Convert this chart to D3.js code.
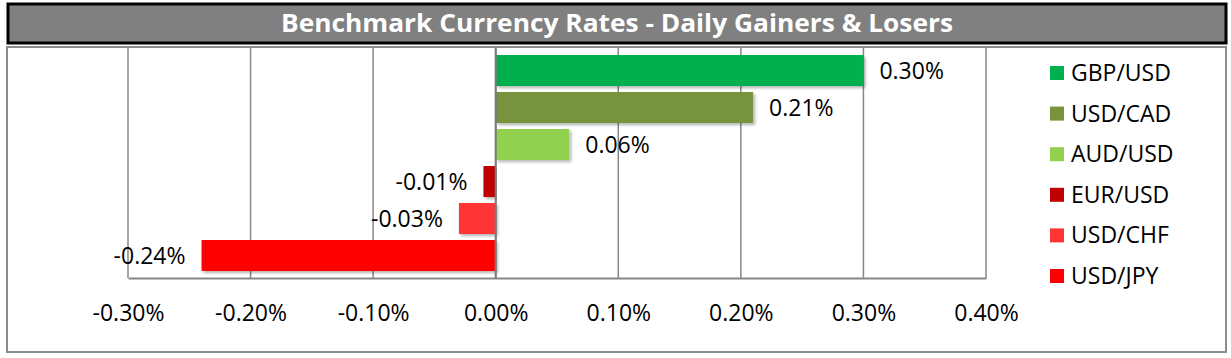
<!DOCTYPE html>
<html><head><meta charset="utf-8">
<script src="https://cdn.jsdelivr.net/npm/d3@7"></script>
<style>body{margin:0;background:#fff}svg{display:block}</style>
</head><body>
<script>
const title = "Benchmark Currency Rates - Daily Gainers & Losers";
const pairs = ["GBP/USD","USD/CAD","AUD/USD","EUR/USD","USD/CHF","USD/JPY"];
const changes = [0.30, 0.21, 0.06, -0.01, -0.03, -0.24];
const colors = ["#00B050","#77933C","#92D050","#C00000","#FF3535","#FF0000"];
const xTicks = [-0.30,-0.20,-0.10,0.00,0.10,0.20,0.30,0.40];

(function(){
const W = 1231, H = 358;
const font = "'Open Sans', sans-serif";
const fs = 23;
const svg = d3.select("body").append("svg").attr("width", W).attr("height", H);

const defs = svg.append("defs");
const f = defs.append("filter").attr("id","sh").attr("x","-5%").attr("y","-20%").attr("width","115%").attr("height","160%");
f.append("feDropShadow").attr("dx",2).attr("dy",2).attr("stdDeviation",1.5).attr("flood-color","#000").attr("flood-opacity",0.3);

// outer frame
svg.append("rect").attr("x",7).attr("y",47).attr("width",1219).attr("height",305)
  .attr("fill","#fff").attr("stroke","#8c8c8c").attr("stroke-width",2);
// title bar
svg.append("rect").attr("x",8).attr("y",4).attr("width",1218).attr("height",39)
  .attr("fill","#808080").attr("stroke","#000").attr("stroke-width",3);
svg.append("text").attr("x",617).attr("y",32).attr("text-anchor","middle")
  .attr("fill","#fff").attr("font-family",font).attr("font-weight","bold")
  .attr("font-size",25).attr("textLength",672).attr("lengthAdjust","spacingAndGlyphs").text(title);

const x = d3.scaleLinear().domain([-0.30,0.40]).range([128,986]);
const y = d3.scaleBand().domain(pairs).range([52,274]).paddingInner(0.162).paddingOuter(0.081);
const pTop = 48, pBottom = 278;

// gridlines
svg.append("g").selectAll("line").data(xTicks).join("line")
  .attr("x1",d=>x(d)).attr("x2",d=>x(d)).attr("y1",pTop).attr("y2",pBottom)
  .attr("stroke","#878787").attr("stroke-width",1.5);

// x axis
const fmt = d=>d3.format(".2f")(d).replace("\u2212","-")+"%";
const xAxis = d3.axisBottom(x).tickValues(xTicks).tickSize(0).tickFormat(fmt);
const gx = svg.append("g").attr("transform",`translate(0,${pBottom})`).call(xAxis);
gx.select(".domain").attr("stroke","#878787").attr("stroke-width",2);
gx.selectAll("text").attr("font-family",font).attr("font-size",fs).attr("fill","#000").attr("dy",0).attr("y",43);

// bars
svg.append("g").selectAll("rect").data(pairs).join("rect")
  .attr("x",(d,i)=>x(Math.min(0,changes[i])))
  .attr("width",(d,i)=>Math.abs(x(changes[i])-x(0)))
  .attr("y",d=>y(d)).attr("height",y.bandwidth())
  .attr("fill",(d,i)=>colors[i]).attr("filter","url(#sh)");

// zero axis
svg.append("line").attr("x1",x(0)).attr("x2",x(0)).attr("y1",pTop).attr("y2",pBottom)
  .attr("stroke","#7a7a7a").attr("stroke-width",2);

// labels
svg.append("g").selectAll("text").data(pairs).join("text")
  .attr("x",(d,i)=>changes[i]>=0 ? x(changes[i])+16 : x(changes[i])-16)
  .attr("y",d=>y(d)+y.bandwidth()/2).attr("dy","0.35em")
  .attr("text-anchor",(d,i)=>changes[i]>=0?"start":"end")
  .attr("font-family",font).attr("font-size",fs).attr("fill","#000")
  .text((d,i)=>fmt(changes[i]));

// legend
const lg = svg.append("g").selectAll("g").data(pairs).join("g")
  .attr("transform",(d,i)=>`translate(1050,${73+i*40.6})`);
lg.append("rect").attr("x",0).attr("y",-7).attr("width",14).attr("height",14).attr("fill",(d,i)=>colors[i]);
lg.append("text").attr("x",21).attr("y",0).attr("dy","0.35em")
  .attr("font-family",font).attr("font-size",fs).attr("fill","#000").text(d=>d);
})();
</script>
</body></html>
